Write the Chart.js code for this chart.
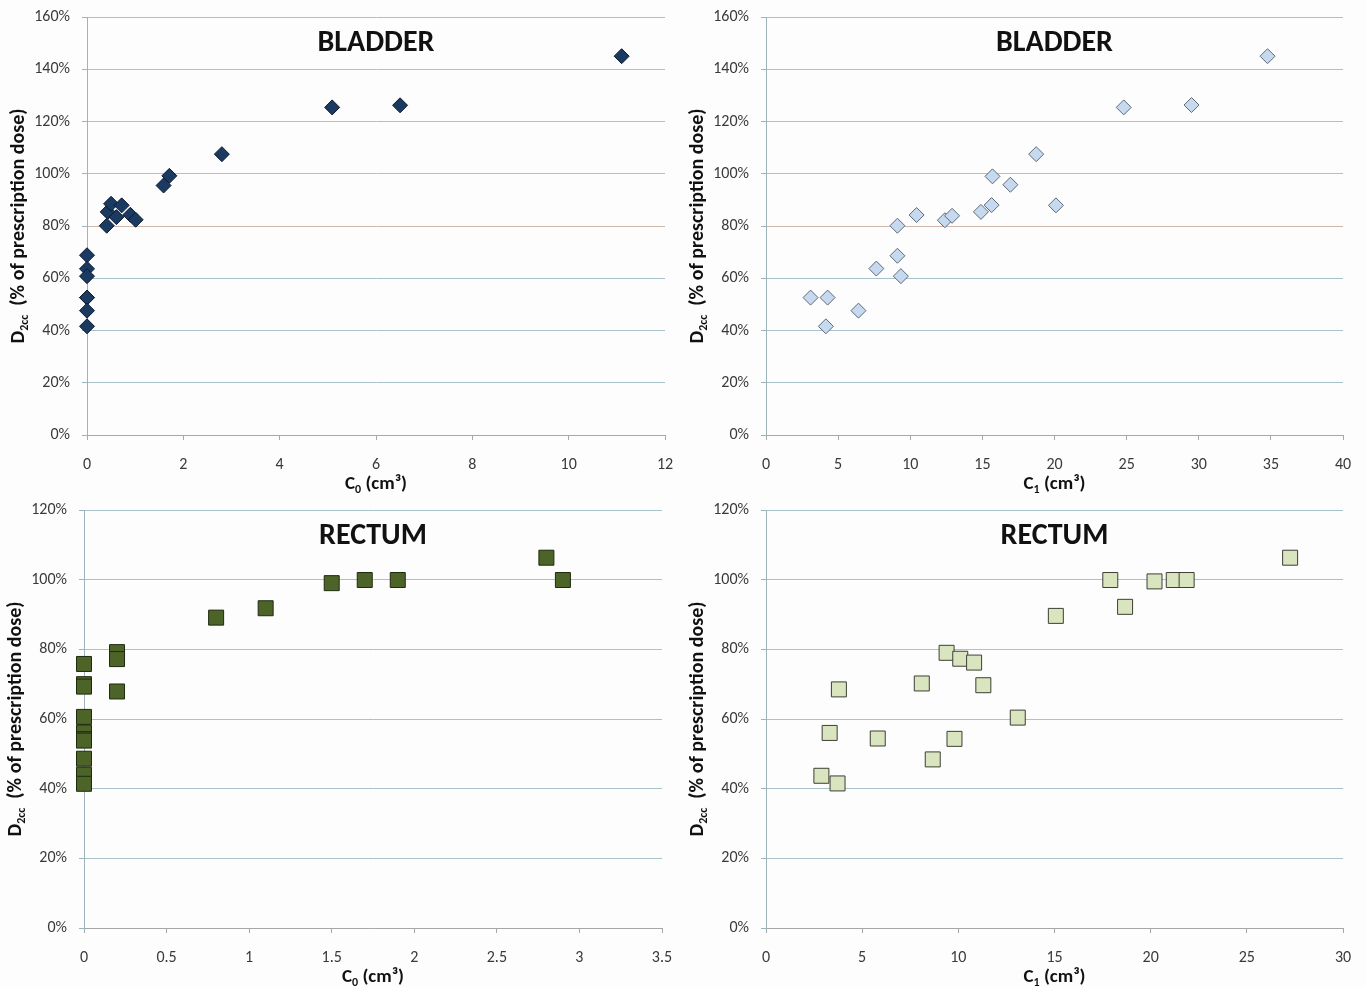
<!DOCTYPE html>
<html>
<head>
<meta charset="utf-8">
<script src="https://cdn.jsdelivr.net/npm/chart.js@4.4.0/dist/chart.umd.min.js"></script>
<style>
  html, body { margin: 0; padding: 0; background: #fdfdfd; }
  .panel { position: absolute; }
</style>
</head>
<body>
<div class="panel" style="left:0;top:0"><canvas id="bladder-c0" width="683" height="493"></canvas></div>
<div class="panel" style="left:683px;top:0"><canvas id="bladder-c1" width="683" height="493"></canvas></div>
<div class="panel" style="left:0;top:493px"><canvas id="rectum-c0" width="683" height="494"></canvas></div>
<div class="panel" style="left:683px;top:493px"><canvas id="rectum-c1" width="683" height="494"></canvas></div>
<script>
// Bladder, D2cc vs C0 and C1
const bladderC0 = [0, 0, 0, 0, 0, 0, 0, 0.41, 0.43, 0.5, 0.61, 0.72, 0.9, 1.01, 1.59, 1.71, 2.8, 5.09, 6.5, 11.1];
const bladderC0Dose = [68.8, 63.6, 60.8, 52.6, 52.6, 47.6, 41.6, 80.1, 85.4, 88.5, 83.4, 87.9, 84.3, 82.4, 95.5, 99.2, 107.5, 125.4, 126.2, 145];
const bladderC1 = [3.09, 4.27, 4.15, 6.41, 7.65, 9.11, 9.11, 9.35, 10.44, 12.4, 12.9, 14.9, 15.64, 15.7, 16.94, 18.73, 20.1, 24.8, 29.5, 34.77];
const bladderC1Dose = [52.6, 52.6, 41.6, 47.6, 63.7, 68.6, 80.1, 60.8, 84.2, 82.2, 83.9, 85.4, 88.0, 99.0, 95.8, 107.5, 87.9, 125.4, 126.3, 145];

// Rectum, D2cc vs C0 and C1
const rectumC0 = [0, 0, 0, 0, 0, 0, 0, 0, 0, 0, 0.2, 0.2, 0.2, 0.8, 1.1, 1.5, 1.7, 1.9, 2.8, 2.9];
const rectumC0Dose = [75.8, 70, 69.3, 60.6, 56.1, 54.2, 53.8, 48.6, 44, 41.4, 79.2, 77.2, 67.9, 89.1, 91.8, 99.0, 99.9, 99.9, 106.3, 99.9];
const rectumC1 = [2.88, 3.72, 3.31, 3.79, 5.81, 8.1, 8.67, 9.39, 10.1, 10.82, 11.3, 9.8, 13.09, 15.07, 17.9, 18.67, 20.2, 21.2, 21.87, 27.25];
const rectumC1Dose = [43.7, 41.5, 56.0, 68.5, 54.4, 70.2, 48.4, 79.0, 77.3, 76.2, 69.7, 54.3, 60.4, 89.6, 99.9, 92.2, 99.5, 99.9, 99.9, 106.3];

const FONT = 'Carlito, Calibri, Lato, sans-serif';
const TAN = '#d0b7a9';
const BLUE = '#a9c1c9';
const AXIS = '#9fb3ba';

// rich text with sub parts, centred on x, baseline y
function drawRich(ctx, parts, x, y, size) {
    let total = 0;
    parts.forEach(p => {
        ctx.font = 'bold ' + (p.sub ? Math.round(size * 0.62) : size) + 'px ' + FONT;
        p.w = ctx.measureText(p.t).width;
        total += p.w;
    });
    let cx = x - total / 2;
    parts.forEach(p => {
        ctx.font = 'bold ' + (p.sub ? Math.round(size * 0.62) : size) + 'px ' + FONT;
        ctx.fillText(p.t, cx, y + (p.sub ? size * 0.22 : 0));
        cx += p.w;
    });
}

const panelLabels = {
    id: 'panelLabels',
    afterDraw(chart, args, opts) {
        const { ctx, chartArea: a } = chart;
        const mid = (a.left + a.right) / 2;
        ctx.save();
        ctx.fillStyle = '#111';
        ctx.textBaseline = 'alphabetic';
        ctx.textAlign = 'center';
        ctx.font = 'bold 30px ' + FONT;
        ctx.fillText(opts.title, mid, a.top + 34);
        ctx.textAlign = 'left';
        drawRich(ctx, [{ t: 'C' }, { t: opts.sub, sub: true }, { t: ' (cm³)' }], mid, a.bottom + 54, 19);
        ctx.translate(a.left - 63, (a.top + a.bottom) / 2);
        ctx.rotate(-Math.PI / 2);
        drawRich(ctx, [{ t: 'D' }, { t: '2cc', sub: true }, { t: '  (% of prescription dose)' }], 0, 0, 20);
        ctx.restore();
    }
};

function makeChart(id, cfg) {
    const pts = cfg.x.map((v, i) => ({ x: v, y: cfg.y[i] }));
    return new Chart(document.getElementById(id), {
        type: 'scatter',
        data: {
            datasets: [{
                data: pts,
                pointStyle: cfg.marker,
                pointRadius: cfg.radius,
                pointHoverRadius: cfg.radius,
                backgroundColor: cfg.fill,
                borderColor: cfg.edge,
                borderWidth: 1,
                clip: false
            }]
        },
        options: {
            responsive: false,
            animation: false,
            layout: { padding: { top: cfg.padTop, right: cfg.padRight, bottom: 0, left: 0 } },
            plugins: {
                legend: { display: false },
                tooltip: { enabled: false },
                panelLabels: { title: cfg.title, sub: cfg.sub }
            },
            scales: {
                x: {
                    type: 'linear',
                    min: 0,
                    max: cfg.xMax,
                    ticks: { stepSize: cfg.xStep, color: '#3a3a3a', padding: 15, font: { family: FONT, size: 16 }, callback: v => String(v) },
                    grid: { drawOnChartArea: false, tickLength: 5, tickColor: '#a8a8a8' },
                    border: { color: '#a8a8a8' },
                    afterFit(s) {
                        s.height = cfg.xAxisH;
                        s.paddingLeft = 0;
                        s.paddingRight = 0;
                    }
                },
                y: {
                    min: 0,
                    max: cfg.yMax,
                    ticks: { stepSize: 20, color: '#3a3a3a', padding: 12, font: { family: FONT, size: 16 }, callback: v => v + '%' },
                    grid: {
                        tickLength: 5,
                        color: c => (c.tick && cfg.gridColors[Math.round(c.tick.value)]) || BLUE,
                        tickColor: AXIS
                    },
                    border: { color: AXIS },
                    afterFit(s) {
                        s.width = cfg.yAxisW;
                        s.paddingTop = 0;
                        s.paddingBottom = 0;
                    }
                }
            }
        },
        plugins: [panelLabels]
    });
}

const bladderGrid = { 0: '#a8a8a8', 20: BLUE, 40: BLUE, 60: BLUE, 80: TAN, 100: TAN, 120: TAN, 140: TAN, 160: BLUE };
const rectumGrid = { 0: '#a8a8a8', 20: BLUE, 40: BLUE, 60: '#b9bcbc', 80: TAN, 100: BLUE, 120: BLUE };

makeChart('bladder-c0', {
    x: bladderC0, y: bladderC0Dose, title: 'BLADDER', sub: '0',
    xMax: 12, xStep: 2, yMax: 160, yAxisW: 87, padTop: 17, padRight: 18, xAxisH: 58,
    marker: 'rectRot', radius: 7.5, fill: '#1b3a62', edge: '#0b1a2e', gridColors: bladderGrid
});
makeChart('bladder-c1', {
    x: bladderC1, y: bladderC1Dose, title: 'BLADDER', sub: '1',
    xMax: 40, xStep: 5, yMax: 160, yAxisW: 83, padTop: 17, padRight: 23, xAxisH: 58,
    marker: 'rectRot', radius: 7.5, fill: '#c7d9ee', edge: '#5c6978', gridColors: bladderGrid
});
makeChart('rectum-c0', {
    x: rectumC0, y: rectumC0Dose, title: 'RECTUM', sub: '0',
    xMax: 3.5, xStep: 0.5, yMax: 120, yAxisW: 84, padTop: 17, padRight: 21, xAxisH: 59,
    marker: 'rect', radius: 10.6, fill: '#4d6428', edge: '#1f2a10', gridColors: rectumGrid
});
makeChart('rectum-c1', {
    x: rectumC1, y: rectumC1Dose, title: 'RECTUM', sub: '1',
    xMax: 30, xStep: 5, yMax: 120, yAxisW: 83, padTop: 17, padRight: 23, xAxisH: 59,
    marker: 'rect', radius: 10.6, fill: '#d8e5be', edge: '#3e3e36', gridColors: rectumGrid
});
</script>
</body>
</html>
